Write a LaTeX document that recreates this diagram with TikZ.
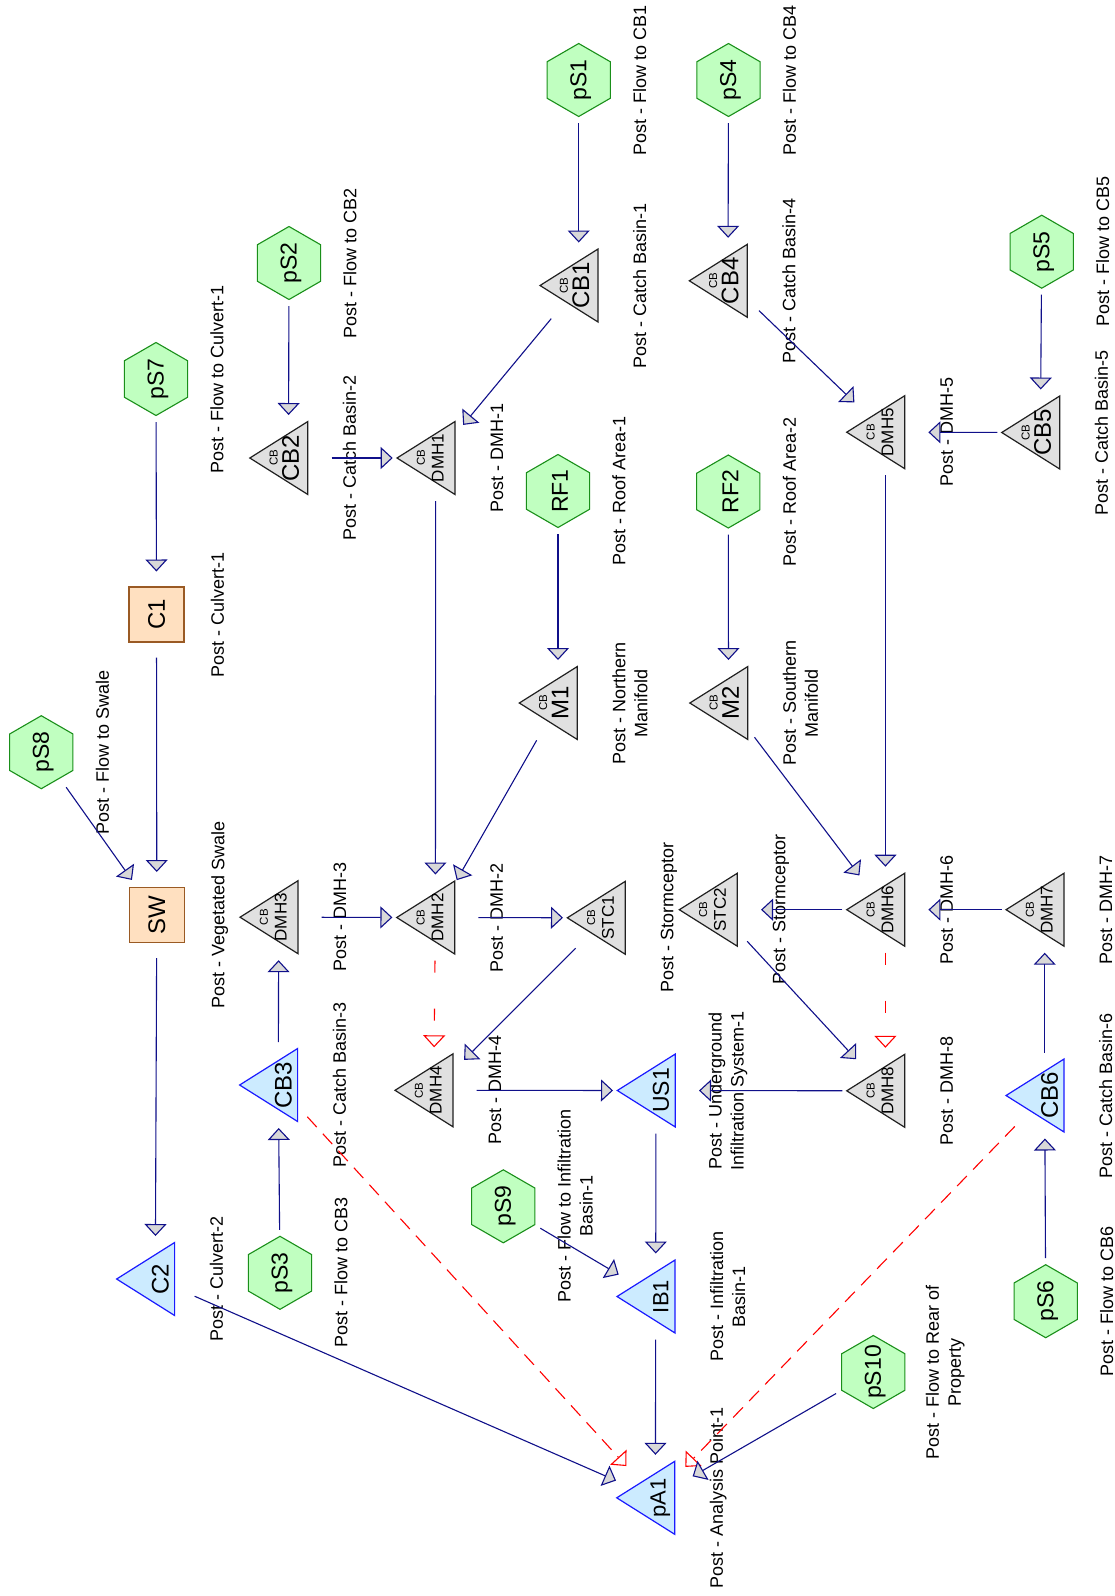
\documentclass[tikz,border=0pt]{standalone}
\usepackage{fontspec}
\setmainfont{Liberation Sans}
\usetikzlibrary{arrows.meta,calc}
\definecolor{hexfill}{HTML}{C0FFC0}
\definecolor{hexline}{HTML}{1A8F1A}
\definecolor{cbfill}{HTML}{E0E0E0}
\definecolor{cbline}{HTML}{202020}
\definecolor{bluefill}{HTML}{CCEBFF}
\definecolor{blueline}{HTML}{1A1AFF}
\definecolor{boxfill}{HTML}{FFE0C0}
\definecolor{boxline}{HTML}{9A5A24}
\definecolor{flowc}{HTML}{10108A}
\definecolor{arrfill}{HTML}{D8D8D8}
\tikzset{
  hexshape/.style={draw=hexline,fill=hexfill,line width=1.1pt},
  cbshape/.style={draw=cbline,fill=cbfill,line width=1.2pt},
  blueshape/.style={draw=blueline,fill=bluefill,line width=1.2pt},
  boxshape/.style={draw=boxline,fill=boxfill,line width=1.2pt,minimum width=55pt,minimum height=55pt,inner sep=0pt,rotate=90},
  nodetext/.style={rotate=90,inner sep=0pt},
  smallcb/.style={rotate=90,inner sep=0pt,font=\fontsize{11.5}{12}\selectfont,text height=8.3pt,text depth=0pt},
  lbl/.style={rotate=90,inner sep=0pt,font=\fontsize{18}{22}\selectfont,text height=12.9pt,text depth=0pt},
  lbltwo/.style={rotate=90,inner sep=0pt,font=\fontsize{18}{22}\selectfont,align=center},
  flow/.style={draw=flowc,line width=1.1pt,shorten <=43pt,shorten >=43pt,-{Triangle[width=22pt,length=12pt,fill=arrfill]}},
  overd/.style={draw=red,line width=1.1pt,dash pattern=on 14pt off 9pt,shorten <=43pt,shorten >=43pt,-{Triangle[width=22pt,length=12pt,fill=white]}},
  overv/.style={draw=red,line width=1.1pt,dash pattern=on 12pt off 36pt,shorten <=43pt,shorten >=43pt,-{Triangle[width=22pt,length=12pt,fill=white]}}
}
% hexagon: name, x, y, label, font size
\newcommand\HexN[5]{%
  \coordinate (#1) at (#2,#3);
  \path[hexshape] ($(#1)+(0,-36.5)$) -- ++(31.61,18.25) -- ++(0,36.5) -- ++(-31.61,18.25) -- ++(-31.61,-18.25) -- ++(0,-36.5) -- cycle;
  \node[nodetext,font=\fontsize{#5}{#5}\selectfont] (#1-t) at ($(#1)+(2,0)$) {#4};
}
% grey CB triangle: name, x, y, label, font size
\newcommand\CBTri[5]{%
  \coordinate (#1) at (#2,#3);
  \path[cbshape] ($(#1)+(-38.67,0)$) -- ($(#1)+(19.33,-36.5)$) -- ($(#1)+(19.33,36.5)$) -- cycle;
  \node[smallcb] (#1-c) at ($(#1)+(-15,0)$) {CB};
  \node[nodetext,font=\fontsize{#5}{#5}\selectfont,text depth=0pt] (#1-t) at ($(#1)+(2,0)$) {#4};
}
% blue triangle: name, x, y, label, font size
\newcommand\BlueTri[5]{%
  \coordinate (#1) at (#2,#3);
  \path[blueshape] ($(#1)+(-38.67,0)$) -- ($(#1)+(19.33,-36.5)$) -- ($(#1)+(19.33,36.5)$) -- cycle;
  \node[nodetext,font=\fontsize{#5}{#5}\selectfont] (#1-t) at ($(#1)+(5,0)$) {#4};
}
% one-line description label
\newcommand\Lbl[2]{\node[lbl] (#1-l) at ($(#1)+(61,0)$) {#2};}
\newcommand\LblTwo[2]{\node[lbltwo] (#1-l) at ($(#1)+(72,0)$) {#2};}
\begin{document}
\begin{tikzpicture}[x={(1pt,0pt)},y={(0pt,-1pt)}]
\useasboundingbox (0,0) rectangle (1115,1596);
\fill[white] (0,0) rectangle (1115,1596);
% hexagons
\HexN{pS1}{578.7}{80}{pS1}{23}
\HexN{pS4}{728.5}{80}{pS4}{23}
\HexN{pS2}{289}{263}{pS2}{23}
\HexN{pS7}{156}{379}{pS7}{23}
\HexN{pS5}{1041.7}{251.7}{pS5}{23}
\HexN{RF1}{558}{491}{RF1}{23}
\HexN{RF2}{728.3}{491.5}{RF2}{23}
\HexN{pS8}{41.3}{752.2}{pS8}{23}
\HexN{pS9}{503.3}{1206.3}{pS9}{23}
\HexN{pS3}{280}{1272.8}{pS3}{23}
\HexN{pS6}{1045.7}{1301.2}{pS6}{23}
\HexN{pS10}{873.3}{1372}{pS10}{23}
% grey CB triangles
\CBTri{CB1}{578.7}{285.5}{CB1}{24}
\CBTri{CB4}{728}{280.8}{CB4}{24}
\CBTri{CB2}{288.5}{458}{CB2}{24}
\CBTri{CB5}{1040.4}{432.5}{CB5}{24}
\CBTri{DMH1}{435.7}{458}{DMH1}{17}
\CBTri{DMH5}{885.4}{432.2}{DMH5}{17}
\CBTri{M1}{558}{703}{M1}{24}
\CBTri{M2}{728.5}{703}{M2}{24}
\CBTri{DMH3}{278.7}{917.2}{DMH3}{17}
\CBTri{DMH2}{435.4}{917.5}{DMH2}{17}
\CBTri{STC1}{606}{917.8}{STC1}{17}
\CBTri{STC2}{718}{909.7}{STC2}{17}
\CBTri{DMH6}{885.4}{909.7}{DMH6}{17}
\CBTri{DMH7}{1044.7}{909.7}{DMH7}{17}
\CBTri{DMH4}{433.7}{1090.3}{DMH4}{17}
\CBTri{DMH8}{885.4}{1090.8}{DMH8}{17}
% blue triangles
\BlueTri{CB3}{278.3}{1085}{CB3}{24}
\BlueTri{CB6}{1044.7}{1095.5}{CB6}{24}
\BlueTri{US1}{656}{1090.5}{US1}{23}
\BlueTri{IB1}{655.7}{1296.5}{IB1}{22}
\BlueTri{pA1}{655.4}{1497.8}{pA1}{22}
\BlueTri{C2}{155.3}{1279}{C2}{24}
% boxes
\node[boxshape,font=\fontsize{24}{24}\selectfont] (C1) at (156.5,614.5) {C1};
\node[boxshape,font=\fontsize{24}{24}\selectfont] (SW) at (156.8,915) {SW};
% description labels
\Lbl{pS1}{Post - Flow to CB1}
\Lbl{CB1}{Post - Catch Basin-1}
\Lbl{pS4}{Post - Flow to CB4}
\Lbl{CB4}{Post - Catch Basin-4}
\Lbl{pS2}{Post - Flow to CB2}
\Lbl{CB2}{Post - Catch Basin-2}
\Lbl{pS7}{Post - Flow to Culvert-1}
\Lbl{C1}{Post - Culvert-1}
\Lbl{DMH1}{Post - DMH-1}
\Lbl{RF1}{Post - Roof Area-1}
\Lbl{RF2}{Post - Roof Area-2}
\Lbl{pS5}{Post - Flow to CB5}
\Lbl{CB5}{Post - Catch Basin-5}
\Lbl{DMH5}{Post - DMH-5}
\LblTwo{M1}{Post - Northern\\Manifold}
\LblTwo{M2}{Post - Southern\\Manifold}
\Lbl{pS8}{Post - Flow to Swale}
\Lbl{SW}{Post - Vegetated Swale}
\Lbl{DMH3}{Post - DMH-3}
\Lbl{DMH2}{Post - DMH-2}
\Lbl{STC1}{Post - Stormceptor}
\Lbl{STC2}{Post - Stormceptor}
\Lbl{DMH6}{Post - DMH-6}
\Lbl{DMH7}{Post - DMH-7}
\Lbl{DMH4}{Post - DMH-4}
\Lbl{DMH8}{Post - DMH-8}
\Lbl{CB3}{Post - Catch Basin-3}
\Lbl{CB6}{Post - Catch Basin-6}
\LblTwo{US1}{Post - Underground\\Infiltration System-1}
\LblTwo{pS9}{Post - Flow to Infiltration\\Basin-1}
\LblTwo{IB1}{Post - Infiltration\\Basin-1}
\Lbl{pS3}{Post - Flow to CB3}
\Lbl{pS6}{Post - Flow to CB6}
\Lbl{C2}{Post - Culvert-2}
\Lbl{pA1}{Post - Analysis Point-1}
\LblTwo{pS10}{Post - Flow to Rear of\\Property}
% connectors
\draw[flow] (pS1) -- (CB1);
\draw[flow] (pS4) -- (CB4);
\draw[flow] (pS2) -- (CB2);
\draw[flow] (pS7) -- (C1.center);
\draw[flow] (CB1) -- (DMH1);
\draw[flow] (CB2) -- (DMH1);
\draw[flow] (CB4) -- (DMH5);
\draw[flow] (pS5) -- (CB5);
\draw[flow] (CB5) -- (DMH5);
\draw[flow] (RF1) -- (M1);
\draw[flow] (RF2) -- (M2);
\draw[flow] (C1.center) -- (SW.center);
\draw[flow] (pS8) -- (SW.center);
\draw[flow] (DMH1) -- (DMH2);
\draw[flow] (M1) -- (DMH2);
\draw[flow] (DMH5) -- (DMH6);
\draw[flow] (M2) -- (DMH6);
\draw[flow] (DMH3) -- (DMH2);
\draw[flow] (DMH2) -- (STC1);
\draw[flow] (DMH6) -- (STC2);
\draw[flow] (DMH7) -- (DMH6);
\draw[flow] (CB3) -- (DMH3);
\draw[flow] (pS3) -- (CB3);
\draw[flow] (CB6) -- (DMH7);
\draw[flow] (pS6) -- (CB6);
\draw[overv] (DMH2) -- (DMH4);
\draw[overv] (DMH6) -- (DMH8);
\draw[flow] (STC1) -- (DMH4);
\draw[flow] (STC2) -- (DMH8);
\draw[flow] (DMH4) -- (US1);
\draw[flow] (DMH8) -- (US1);
\draw[flow] (US1) -- (IB1);
\draw[flow] (pS9) -- (IB1);
\draw[flow] (IB1) -- (pA1);
\draw[flow] (SW.center) -- (C2);
\draw[flow] (C2) -- (pA1);
\draw[overd] (CB3) -- (pA1);
\draw[overd] (CB6) -- (pA1);
\draw[flow] (pS10) -- (pA1);
\end{tikzpicture}
\end{document}
